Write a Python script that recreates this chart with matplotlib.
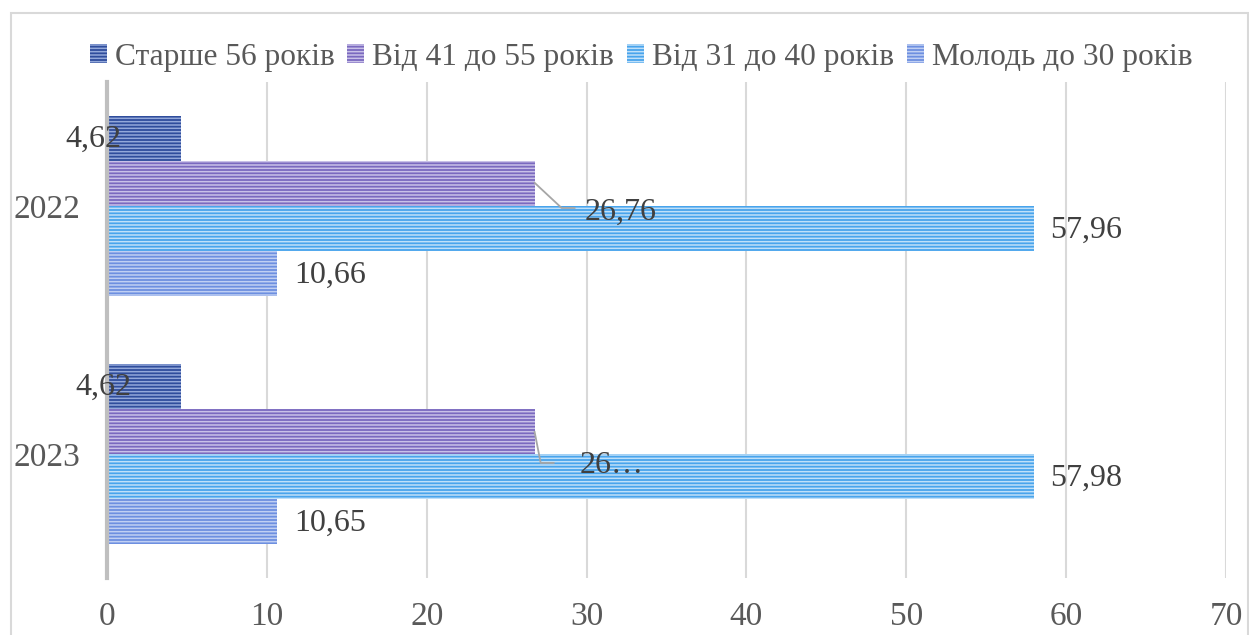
import numpy as np
import matplotlib.pyplot as plt
from matplotlib.patches import Rectangle

plt.rcParams.update({
    'font.family': ['Liberation Serif', 'DejaVu Serif'],
    'hatch.linewidth': 1.1,
})

years = ['2022', '2023']
groups = ['Старше 56 років', 'Від 41 до 55 років', 'Від 31 до 40 років', 'Молодь до 30 років']
over56 = [4.62, 4.62]
age41_55 = [26.76, 26.75]
age31_40 = [57.96, 57.98]
under30 = [10.66, 10.65]
labels_41_55 = ['26,76', '26…']

series = [over56, age41_55, age31_40, under30]
base_colors = ['#2f4d9c', '#7a69bf', '#48a4ec', '#6d8fe0']
stripe_colors = ['#93a8da', '#c9c1e8', '#bfe0f9', '#c0cff3']

W, H = 1249, 635
fig = plt.figure(figsize=(W / 100, H / 100), dpi=100)
ax = fig.add_axes([107 / W, (H - 578) / H, (1226 - 107) / W, (578 - 82) / H])

# light chart frame
fig.patches.append(Rectangle((11 / W, -0.05), (1248 - 11) / W, 1.05 - 13 / H,
                             transform=fig.transFigure, fill=False,
                             edgecolor='#d9d9d9', lw=1.5))

ypos = np.arange(len(years))
bh = 0.182
offsets = [-1.5 * bh, -0.5 * bh, 0.5 * bh, 1.5 * bh]
for vals, off, fc, sc, name in zip(series, offsets, base_colors, stripe_colors, groups):
    ax.barh(ypos + off, vals, height=bh, color=fc, edgecolor=sc,
            hatch='-----', linewidth=0, label=name, zorder=3)

ax.set_xlim(0, 70)
ax.set_ylim(1.5, -0.5)
ax.set_xticks(np.arange(0, 71, 10))
ax.set_yticks(ypos)
ax.set_yticklabels(years)
ax.tick_params(axis='both', length=0, labelsize=24, colors='#595959')
ax.tick_params(axis='x', pad=17)
ax.tick_params(axis='y', pad=19)
ax.grid(axis='x', color='#d9d9d9', lw=1.5, zorder=0)
for s in ['top', 'right', 'bottom']:
    ax.spines[s].set_visible(False)
ax.spines['left'].set_color('#bfbfbf')
ax.spines['left'].set_linewidth(3)
ax.spines['left'].set_zorder(4)

lab_kw = dict(fontsize=23, color='#404040', va='center', zorder=5)
fmt = lambda v: f'{v:.2f}'.replace('.', ',')

# oldest group: labels sit over the bar start
for i, v in enumerate(over56):
    shift = [-63, -56][i]
    ax.annotate(fmt(v), (v, ypos[i] + offsets[0]), xytext=(shift, -1),
                textcoords='offset points', ha='center', **lab_kw)

# 41-55: labels pulled aside with leader lines
lead = [((26.76, -0.093), (28.44, 0.008), (29.25, 0.008), (29.9, 0.025)),
        ((26.75, 0.911), (27.13, 1.036), (27.94, 1.036), (29.56, 1.045))]
for i, v in enumerate(age41_55):
    p0, p1, p2, pt = lead[i]
    ax.plot([v, p1[0], p2[0]], [p0[1], p1[1], p2[1]], color='#a6a6a6', lw=1.3, zorder=5)
    ax.text(pt[0], pt[1], labels_41_55[i], ha='left', **lab_kw)

for vals, off in [(age31_40, offsets[2]), (under30, offsets[3])]:
    for i, v in enumerate(vals):
        ax.annotate(fmt(v), (v, ypos[i] + off), xytext=(12, -1),
                    textcoords='offset points', ha='left', **lab_kw)

leg = fig.legend(loc='center', bbox_to_anchor=(641 / W, 1 - 57 / H), ncol=4,
                 frameon=False, fontsize=22.6, handlelength=0.55, handleheight=0.55,
                 handletextpad=0.25, columnspacing=0.4, borderaxespad=0)
for t in leg.get_texts():
    t.set_color('#595959')

fig.savefig('out.png', dpi=100)
